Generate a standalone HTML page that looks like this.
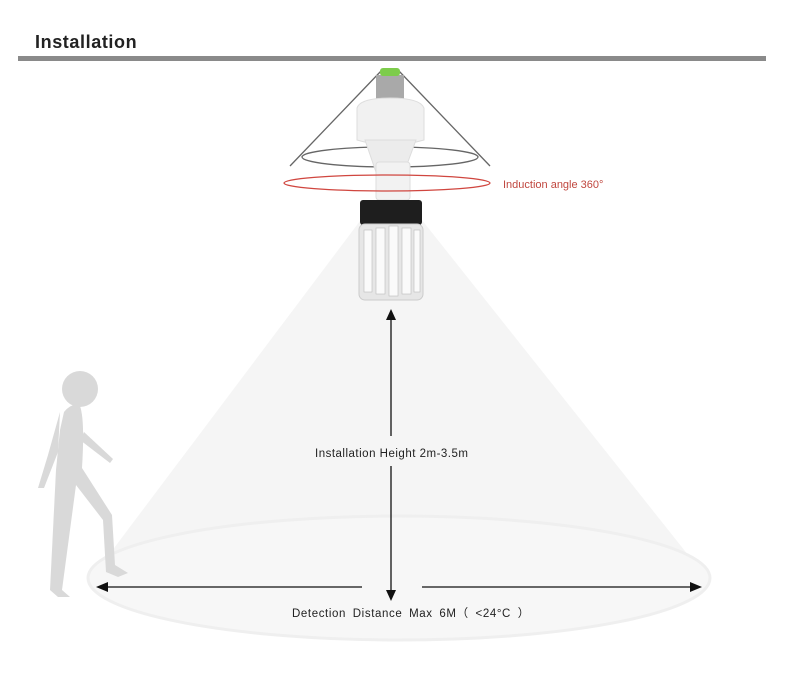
<!DOCTYPE html>
<html><head><style>body{margin:0;background:#fff}svg{display:block}</style></head><body>
<svg width="800" height="687" viewBox="0 0 800 687" xmlns="http://www.w3.org/2000/svg" font-family="Liberation Sans, sans-serif">
<text x="35" y="48" font-size="18" font-weight="bold" fill="#222" letter-spacing="0.6">Installation</text>
<rect x="18" y="56" width="748" height="5" fill="#8a8a8a"/>
<!-- cone -->
<polygon points="372,205 410,205 708,580 90,580" fill="#f5f5f5"/>
<ellipse cx="399" cy="578" rx="311" ry="62" fill="#f7f7f7" stroke="#efefef" stroke-width="3"/>
<!-- person -->
<g fill="#d9d9d9">
<circle cx="80" cy="389" r="18"/>
<path d="M64,412 Q72,402 80,406 Q85,420 82,468 L112,515 L115,565 L128,573 L118,577 L106,572 L103,520 L76,485 L62,590 L70,597 L58,597 L50,590 L56,470 L60,430 Z"/>
<path d="M60,412 L48,455 L38,488 L44,488 L58,452 Z"/>
<path d="M80,440 L110,463 L113,459 L84,432 Z"/>
</g>
<!-- gray cone lines -->
<g stroke="#666" stroke-width="1.3" fill="none">
<line x1="382" y1="70" x2="290" y2="166"/>
<line x1="398" y1="70" x2="490" y2="166"/>
<ellipse cx="390" cy="157" rx="88" ry="10"/>
</g>
<!-- lamp -->
<rect x="376" y="75" width="28" height="30" fill="#a9a9a9"/>
<rect x="380" y="68" width="20" height="8" rx="3" fill="#7dcc4b"/>
<path d="M357,108 Q360,98 390,98 Q420,98 424,108 L424,140 Q390,150 357,140 Z" fill="#f1f1f1" stroke="#ddd"/>
<path d="M365,140 L378,178 L402,178 L416,140 Z" fill="#ececec" stroke="#ddd"/>
<rect x="376" y="162" width="34" height="38" rx="3" fill="#f2f2f2" stroke="#ddd"/>
<rect x="360" y="200" width="62" height="25" rx="3" fill="#1e1e1e"/>
<rect x="359" y="224" width="64" height="76" rx="6" fill="#e6e6e6" stroke="#ccc"/>
<g fill="#fafafa" stroke="#bbb" stroke-width="0.6">
<rect x="364" y="230" width="8" height="62"/><rect x="376" y="228" width="9" height="66"/><rect x="389" y="226" width="9" height="70"/><rect x="402" y="228" width="9" height="66"/><rect x="414" y="230" width="6" height="62"/>
</g>
<ellipse cx="387" cy="183" rx="103" ry="8" fill="none" stroke="#d0463f" stroke-width="1.3"/>
<text x="503" y="188" font-size="11" fill="#c0473f">Induction angle 360°</text>
<!-- arrows -->
<g stroke="#111" stroke-width="1.3">
<line x1="391" y1="318" x2="391" y2="436"/>
<line x1="391" y1="466" x2="391" y2="594"/>
<line x1="106" y1="587" x2="362" y2="587"/>
<line x1="422" y1="587" x2="692" y2="587"/>
</g>
<g fill="#111">
<polygon points="391,309 386,320 396,320"/>
<polygon points="391,601 386,590 396,590"/>
<polygon points="96,587 108,582 108,592"/>
<polygon points="702,587 690,582 690,592"/>
</g>
<text x="315" y="457" font-size="11.5" fill="#222" letter-spacing="0.5">Installation Height 2m-3.5m</text>
<text x="292" y="617" font-size="11.5" fill="#222" letter-spacing="0.6" word-spacing="3">Detection Distance Max 6M（ &lt;24°C ）</text>
</svg>
</body></html>
